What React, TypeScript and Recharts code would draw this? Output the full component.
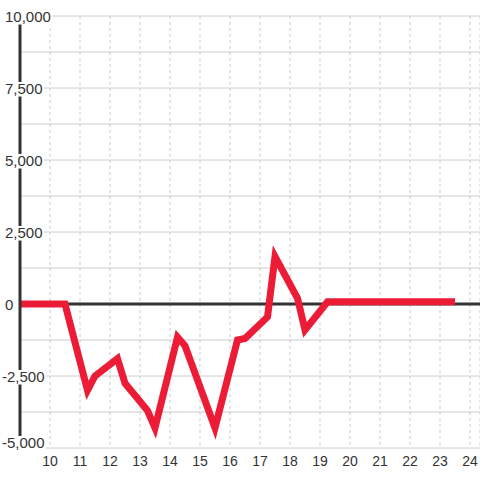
import React from 'react';
import {
  LineChart,
  Line,
  XAxis,
  YAxis,
  CartesianGrid,
  ReferenceLine,
} from 'recharts';

const hours = [9, 10.5, 11.25, 11.5, 12.25, 12.5, 13.25, 13.5, 14.25, 14.5, 15.5, 16.25, 16.5, 17.25, 17.5, 18.25, 18.5, 19.25, 23.5];
const values = [0, 0, -3000, -2500, -1900, -2750, -3700, -4300, -1150, -1450, -4300, -1250, -1200, -450, 1650, 200, -900, 80, 80];

const xTicks = [10, 11, 12, 13, 14, 15, 16, 17, 18, 19, 20, 21, 22, 23, 24];
const yTicks = [-5000, -3750, -2500, -1250, 0, 1250, 2500, 3750, 5000, 6250, 7500, 8750, 10000];
const yLabels = [-5000, -2500, 0, 2500, 5000, 7500, 10000];

const data = hours.map((h, i) => ({ hour: h, value: values[i] }));

const FONT = '"Liberation Sans", Arial, sans-serif';

// rough text width for 15px Arial-like digits
const textWidth = (s: string) =>
  s.split('').reduce((w, c) => w + (c === ',' ? 4.2 : c === '-' ? 5 : 8.34), 0);

const renderYTick = (props: any) => {
  const { y, payload } = props;
  const v = payload.value;
  if (!yLabels.includes(v)) return <g />;
  const label = v.toLocaleString('en-US');
  const w = textWidth(label);
  const x0 = v < 0 ? 2 : 5;
  const cy = v === -5000 ? y - 6 : y;
  return (
    <g>
      <rect x={x0} y={cy - 6} width={w + 1.5} height={14.5} fill="#fff" />
      <text x={x0} y={cy + 5.5} fill="#333" fontSize={15} fontFamily={FONT}>
        {label}
      </text>
    </g>
  );
};

export default function App() {
  return (
    <div style={{ position: 'absolute', left: 0, top: 0, background: '#fff' }}>
      <LineChart
        width={480}
        height={480}
        data={data}
        margin={{ top: 16, right: 0, bottom: 0, left: 0 }}
      >
        <CartesianGrid vertical={false} stroke="#ccc" />
        <CartesianGrid horizontal={false} stroke="#ccc" strokeDasharray="3 3" />
        <XAxis
          dataKey="hour"
          type="number"
          domain={[9, 24.333]}
          ticks={xTicks}
          allowDataOverflow
          axisLine={false}
          tickLine={false}
          height={32}
          tick={{ fill: '#333', fontSize: 14, fontFamily: FONT }}
        />
        <YAxis
          type="number"
          domain={[-5000, 10000]}
          ticks={yTicks}
          width={20}
          axisLine={{ stroke: '#333', strokeWidth: 3 }}
          tickLine={false}
          tick={renderYTick}
          interval={0}
        />
        <ReferenceLine y={0} stroke="#333" strokeWidth={3} />
        <Line
          type="linear"
          dataKey="value"
          stroke="#ed1c36"
          strokeWidth={7}
          dot={false}
          activeDot={false}
          isAnimationActive={false}
        />
      </LineChart>
    </div>
  );
}
